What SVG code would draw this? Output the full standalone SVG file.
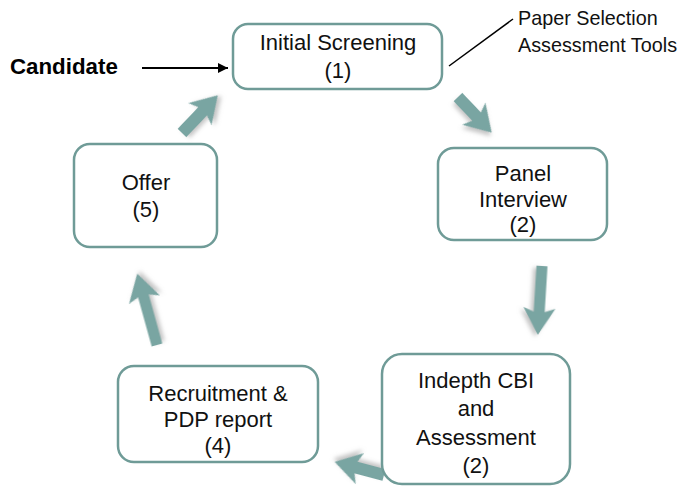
<svg xmlns="http://www.w3.org/2000/svg" width="680" height="489" viewBox="0 0 680 489">
<style>
.box{fill:#fff;stroke:#6f9b97;stroke-width:2.5}
.t{font-family:"Liberation Sans",Arial,sans-serif;font-size:22px;fill:#111;text-anchor:middle}
.note{font-family:"Liberation Sans",Arial,sans-serif;font-size:19.8px;fill:#111}
.cand{font-family:"Liberation Sans",Arial,sans-serif;font-size:22.3px;font-weight:bold;fill:#000}
.arr{fill:#79a5a2;filter:url(#sh)}
</style>
<defs>
<filter id="sh" x="-30%" y="-30%" width="160%" height="160%">
<feDropShadow dx="2" dy="3" stdDeviation="2" flood-color="#888" flood-opacity="0.5"/>
</filter>
<marker id="ah" viewBox="0 0 10 10" refX="10" refY="5" markerWidth="5" markerHeight="5" orient="auto" markerUnits="strokeWidth">
<path d="M0,0 L10,5 L0,10 z" fill="#000"/>
</marker>
</defs>
<g id="connectors">
<path class="arr" transform="translate(182,133) rotate(-46.5)" d="M0,-6 L30,-6 L26,-16 L52,0 L26,16 L30,6 L0,6 Z"/>
<path class="arr" transform="translate(458,97) rotate(46.6)" d="M0,-6 L27,-6 L23,-16 L49,0 L23,16 L27,6 L0,6 Z"/>
<path class="arr" transform="translate(542,266) rotate(93.5)" d="M0,-5.5 L46,-5.5 L42,-16 L69,0 L42,16 L46,5.5 L0,5.5 Z"/>
<path class="arr" transform="translate(384,475) rotate(194.9)" d="M0,-6 L29,-6 L25,-16 L51,0 L25,16 L29,6 L0,6 Z"/>
<path class="arr" transform="translate(157,345) rotate(-105.5)" d="M0,-5.5 L51,-5.5 L47,-16 L74,0 L47,16 L51,5.5 L0,5.5 Z"/>
<line x1="142" y1="68" x2="228" y2="68" stroke="#000" stroke-width="2" marker-end="url(#ah)"/>
<line x1="449" y1="66" x2="513" y2="19" stroke="#000" stroke-width="1.5"/>
</g>
<g id="candidate">
<text class="cand" x="10" y="74">Candidate</text>
</g>
<g id="note">
<text class="note" x="518" y="25">Paper Selection</text>
<text class="note" x="518" y="52">Assessment Tools</text>
</g>
<g id="n1">
<rect class="box" x="233" y="24" width="209" height="65" rx="15"/>
<text class="t" x="338" y="50">Initial Screening</text>
<text class="t" x="338" y="78">(1)</text>
</g>
<g id="n2">
<rect class="box" x="438" y="148" width="169" height="92" rx="16"/>
<text class="t" x="523" y="181">Panel</text>
<text class="t" x="523" y="207">Interview</text>
<text class="t" x="523" y="232">(2)</text>
</g>
<g id="n3">
<rect class="box" x="382" y="354" width="188" height="130" rx="20"/>
<text class="t" x="476" y="388">Indepth CBI</text>
<text class="t" x="476" y="416">and</text>
<text class="t" x="476" y="445">Assessment</text>
<text class="t" x="476" y="473">(2)</text>
</g>
<g id="n4">
<rect class="box" x="118" y="366" width="200" height="96" rx="16"/>
<text class="t" x="218" y="401">Recruitment &amp;</text>
<text class="t" x="218" y="427">PDP report</text>
<text class="t" x="218" y="453">(4)</text>
</g>
<g id="n5">
<rect class="box" x="74" y="144" width="143" height="103" rx="16"/>
<text class="t" x="146" y="190">Offer</text>
<text class="t" x="146" y="217">(5)</text>
</g>
</svg>
